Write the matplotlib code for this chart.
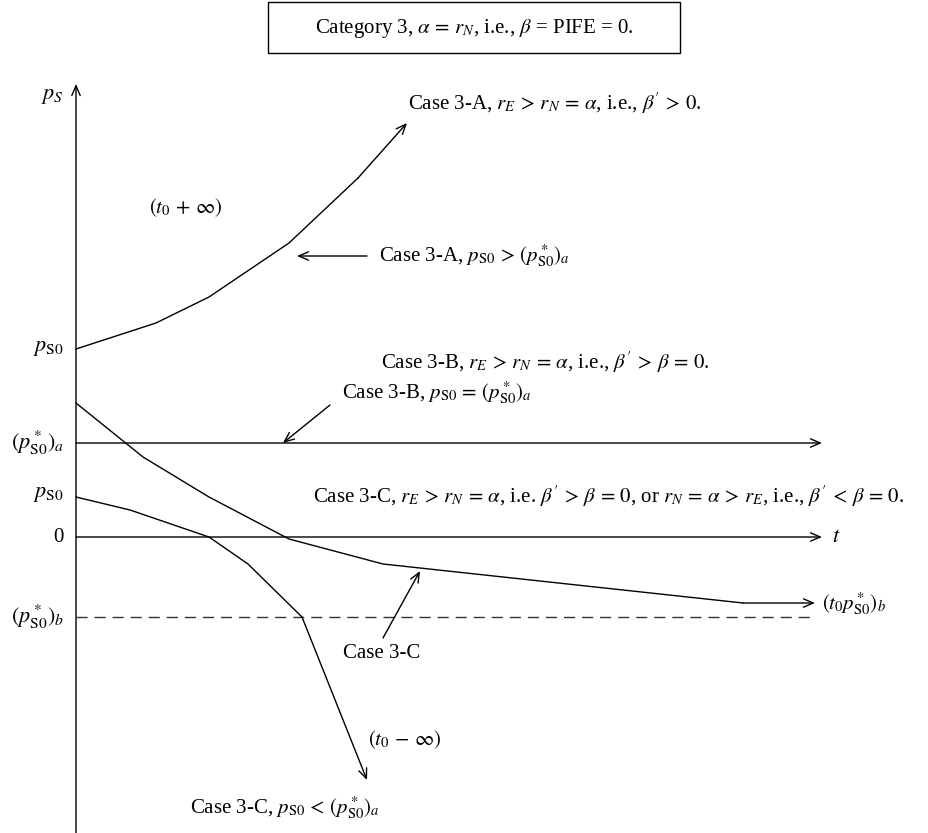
import numpy as np
import matplotlib
matplotlib.use("Agg")
import matplotlib.pyplot as plt
import matplotlib.patches as patches

plt.rcParams['font.family'] = ['Liberation Serif', 'DejaVu Serif']
plt.rcParams['mathtext.fontset'] = 'stix'

# price levels on the vertical axis
p_a = 94      # (p*_S0)_a
p_s0 = 40     # p_S0 for case 3-C
p_b = -80     # (p*_S0)_b
p_s0_high = 188

# Case 3-A: rising path
case_a_t = [0, 80, 133, 213, 282, 331]
case_a_p = [p_s0_high, 214, 240, 294, 359, 414]

# Case 3-C: path that levels off towards (p*_S0)_b
case_c_t = [0, 67, 133, 213, 307, 667, 739]
case_c_p = [134, 80, 40, -2, -27, -66, -66]

# Case 3-C: path falling below (p*_S0)_b
case_c2_t = [0, 54, 133, 172, 226, 291]
case_c2_p = [p_s0, 27, 0, -27, p_b, -243]

t_end = 746
p_top = 453
p_bottom = -296

fig = plt.figure(figsize=(9.29, 8.33), dpi=100)
ax = fig.add_axes([0, 0, 1, 1])
ax.set_xlim(-76, 853)
ax.set_ylim(-296, 537)
ax.axis('off')

lw = 1.0
arr = dict(arrowstyle='->,head_length=0.7,head_width=0.3', lw=lw, color='black',
           shrinkA=0, shrinkB=0)


def arrow(x0, y0, x1, y1):
    ax.annotate('', xy=(x1, y1), xytext=(x0, y0), arrowprops=arr)


def path_with_arrow(t, p):
    ax.plot(t[:-1], p[:-1], color='black', lw=lw, solid_joinstyle='miter')
    arrow(t[-2], p[-2], t[-1], p[-1])


def m(expr):
    # math with a little more room around relations and operators
    for op in ('>', '<', '=', '+', '-'):
        expr = expr.replace(' ' + op + ' ', r'\,' + op + r'\,')
    return '$' + expr + '$'


# axes
arrow(0, p_bottom, 0, p_top)
arrow(0, 0, t_end, 0)
arrow(0, p_a, t_end, p_a)
ax.plot([0, 734], [p_b, p_b], color='#333333', lw=1.0, dashes=(8, 5))

path_with_arrow(case_a_t, case_a_p)
path_with_arrow(case_c_t, case_c_p)
path_with_arrow(case_c2_t, case_c2_p)

# pointer arrows
arrow(291, 281, 221, 281)
arrow(254, 132, 207, p_a)
arrow(307, -101, 344, -34)

fs = 15
pS0 = r'p_{\mathrm{S0}}'
pstar = r'(p^*_{\mathrm{S0}})'
# axis labels
ax.text(-12, 440, r'$p_S$', fontsize=fs + 1, ha='right', va='center')
ax.text(-12, p_s0_high, f'${pS0}$', fontsize=fs + 1, ha='right', va='center')
ax.text(-12, p_a, f'${pstar}_a$', fontsize=fs + 1, ha='right', va='center')
ax.text(-12, p_s0 + 2, f'${pS0}$', fontsize=fs + 1, ha='right', va='center')
ax.text(-12, 0, '0', fontsize=fs, ha='right', va='center')
ax.text(-12, p_b, f'${pstar}_b$', fontsize=fs + 1, ha='right', va='center')
ax.text(t_end + 10, 0, r'$t$', fontsize=fs + 1, ha='left', va='center')

# annotations
ax.text(110, 329, m(r'(t_0 + \infty)'), fontsize=fs, ha='center', va='center')
ax.text(332, 434, 'Case 3-A, ' + m(r'r_E > r_N = \alpha') + ', i.e., ' + m(r"\beta' > 0") + '.',
        fontsize=fs, ha='left', va='center')
ax.text(303, 281, 'Case 3-A, ' + m(pS0 + ' > ' + pstar + '_a'),
        fontsize=fs, ha='left', va='center')
ax.text(305, 175, 'Case 3-B, ' + m(r'r_E > r_N = \alpha') + ', i.e., '
        + m(r"\beta' > \beta = 0") + '.', fontsize=fs, ha='left', va='center')
ax.text(266, 144, 'Case 3-B, ' + m(pS0 + ' = ' + pstar + '_a'),
        fontsize=fs, ha='left', va='center')
ax.text(237, 41, 'Case 3-C, ' + m(r'r_E > r_N = \alpha') + ', i.e. '
        + m(r"\beta' > \beta = 0") + ', or ' + m(r'r_N = \alpha > r_E') + ', i.e., '
        + m(r"\beta' < \beta = 0") + '.', fontsize=fs, ha='left', va='center')
ax.text(746, -67, r'$(t_0 p^*_{\mathrm{S0}})_b$', fontsize=fs, ha='left', va='center')
ax.text(306, -116, 'Case 3-C', fontsize=fs, ha='center', va='center')
ax.text(329, -203, m(r'(t_0 - \infty)'), fontsize=fs, ha='center', va='center')
ax.text(114, -271, 'Case 3-C, ' + m(pS0 + ' < ' + pstar + '_a'),
        fontsize=fs, ha='left', va='center')

# title box
ax.add_patch(patches.Rectangle((192, 484), 412, 51, fill=False, lw=1.0, edgecolor='black'))
ax.text(398, 509, 'Category 3, ' + m(r'\alpha = r_N') + ', i.e., ' + m(r'\beta')
        + ' = PIFE = 0.', fontsize=fs, ha='center', va='center')

fig.savefig('out.png', dpi=100)
